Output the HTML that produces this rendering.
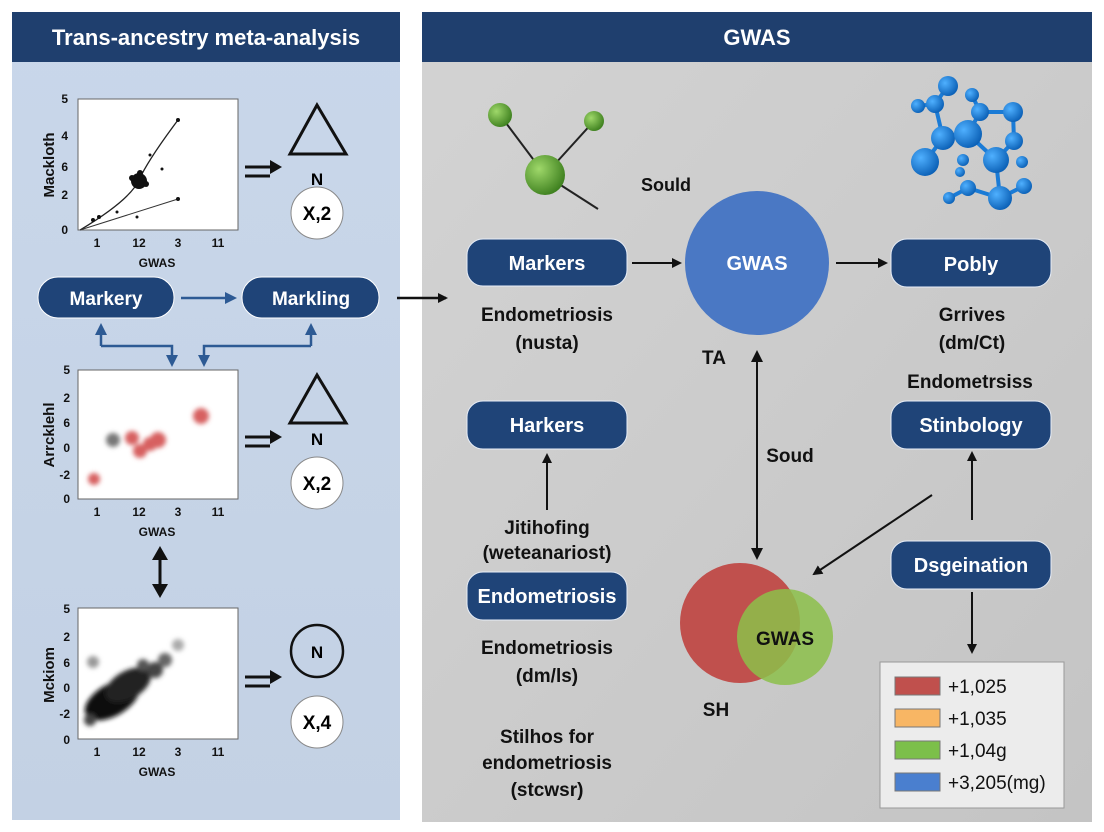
<!DOCTYPE html>
<html><head><meta charset="utf-8"><style>
html,body{margin:0;padding:0;background:#fff;}
svg{display:block;font-family:"Liberation Sans",sans-serif;}
</style></head><body>
<svg width="1104" height="832" viewBox="0 0 1104 832" xmlns="http://www.w3.org/2000/svg">
<defs>
<linearGradient id="lg" x1="0" y1="0" x2="0" y2="1"><stop offset="0" stop-color="#c9d7ea"/><stop offset="1" stop-color="#c3d1e4"/></linearGradient>
<linearGradient id="rg" x1="0" y1="0" x2="1" y2="1"><stop offset="0" stop-color="#d3d3d3"/><stop offset="1" stop-color="#c4c4c4"/></linearGradient>
<radialGradient id="gsph" cx="0.35" cy="0.35" r="0.7"><stop offset="0" stop-color="#9fd86a"/><stop offset="1" stop-color="#3d7f1e"/></radialGradient>
<radialGradient id="bsph" cx="0.35" cy="0.35" r="0.7"><stop offset="0" stop-color="#4fb0ff"/><stop offset="1" stop-color="#0a5fb5"/></radialGradient>
<filter id="bl"><feGaussianBlur stdDeviation="2.5"/></filter>
<marker id="ah" markerWidth="10" markerHeight="10" refX="8" refY="5" orient="auto" markerUnits="userSpaceOnUse"><path d="M0,0 L10,5 L0,10 z" fill="#111"/></marker>
<marker id="ahb" markerWidth="12" markerHeight="12" refX="9" refY="6" orient="auto" markerUnits="userSpaceOnUse"><path d="M0,0 L12,6 L0,12 z" fill="#2d5a94"/></marker>
<marker id="ahs" markerWidth="14" markerHeight="14" refX="0" refY="7" orient="auto-start-reverse" markerUnits="userSpaceOnUse"><path d="M0,0 L14,7 L0,14 z" fill="#111"/></marker>
</defs>

<!-- Left panel -->
<rect x="12" y="12" width="388" height="808" fill="url(#lg)"/>
<rect x="12" y="12" width="388" height="50" fill="#1f3f6e"/>
<text x="206" y="45" text-anchor="middle" font-size="22" font-weight="bold" fill="#fff">Trans-ancestry meta-analysis</text>

<!-- Right panel -->
<rect x="422" y="12" width="670" height="810" fill="url(#rg)"/>
<rect x="422" y="12" width="670" height="50" fill="#1f3f6e"/>
<text x="757" y="45" text-anchor="middle" font-size="22" font-weight="bold" fill="#fff">GWAS</text>

<!-- Plot 1 -->
<g font-size="12" font-weight="bold" fill="#111">
<rect x="78" y="99" width="160" height="131" fill="#fff" stroke="#666"/>
<text x="68" y="103" text-anchor="end">5</text><text x="68" y="140" text-anchor="end">4</text><text x="68" y="171" text-anchor="end">6</text><text x="68" y="199" text-anchor="end">2</text><text x="68" y="234" text-anchor="end">0</text>
<text x="97" y="247" text-anchor="middle">1</text><text x="139" y="247" text-anchor="middle">12</text><text x="178" y="247" text-anchor="middle">3</text><text x="218" y="247" text-anchor="middle">11</text>
<text x="157" y="267" text-anchor="middle">GWAS</text>
<text transform="translate(54,165) rotate(-90)" text-anchor="middle" font-size="15">Mackloth</text>
<path d="M80,230 Q130,200 139,180 T178,120" fill="none" stroke="#222" stroke-width="1.3"/>
<line x1="80" y1="230" x2="178" y2="199" stroke="#333" stroke-width="1"/>
<circle cx="139" cy="181" r="8" fill="#111"/>
<circle cx="132" cy="178" r="3" fill="#111"/><circle cx="146" cy="184" r="3" fill="#111"/><circle cx="140" cy="173" r="3" fill="#111"/>
<circle cx="178" cy="120" r="2" fill="#111"/><circle cx="178" cy="199" r="2" fill="#111"/><circle cx="162" cy="169" r="1.5"/><circle cx="150" cy="155" r="1.5"/><circle cx="99" cy="217" r="2"/><circle cx="117" cy="212" r="1.5"/><circle cx="137" cy="217" r="1.5"/><circle cx="93" cy="220" r="2"/>
</g>
<polygon points="317,105 290,154 346,154" fill="none" stroke="#111" stroke-width="3"/>
<text x="317" y="185" text-anchor="middle" font-size="17" font-weight="bold">N</text>
<circle cx="317" cy="213" r="26" fill="#fff" stroke="#888"/>
<text x="317" y="220" text-anchor="middle" font-size="19" font-weight="bold">X,2</text>
<g stroke="#111" stroke-width="3"><line x1="245" y1="167" x2="272" y2="167"/><line x1="245" y1="176" x2="270" y2="176"/></g>
<path d="M270,160 L282,167 L270,174 z" fill="#111"/>

<!-- pills left -->
<rect x="38" y="277" width="136" height="41" rx="20" fill="#1f4478" stroke="#fff" stroke-width="1"/>
<text x="106" y="305" text-anchor="middle" font-size="19" font-weight="bold" fill="#fff">Markery</text>
<rect x="242" y="277" width="137" height="41" rx="20" fill="#1f4478" stroke="#fff" stroke-width="1"/>
<text x="311" y="305" text-anchor="middle" font-size="19" font-weight="bold" fill="#fff">Markling</text>
<line x1="181" y1="298" x2="234" y2="298" stroke="#2d5a94" stroke-width="2.5" marker-end="url(#ahb)"/>
<g stroke="#2d5a94" stroke-width="2.5" fill="none">
<path d="M101,346 L101,326" marker-end="url(#ahb)"/>
<path d="M101,346 L172,346 L172,364" marker-end="url(#ahb)"/>
<path d="M311,346 L311,326" marker-end="url(#ahb)"/>
<path d="M311,346 L204,346 L204,364" marker-end="url(#ahb)"/>
</g>
<line x1="397" y1="298" x2="446" y2="298" stroke="#111" stroke-width="2.5" marker-end="url(#ah)"/>

<!-- Plot 2 -->
<g font-size="12" font-weight="bold" fill="#111">
<rect x="78" y="370" width="160" height="129" fill="#fff" stroke="#666"/>
<text x="70" y="374" text-anchor="end">5</text><text x="70" y="402" text-anchor="end">2</text><text x="70" y="427" text-anchor="end">6</text><text x="70" y="452" text-anchor="end">0</text><text x="70" y="479" text-anchor="end">-2</text><text x="70" y="503" text-anchor="end">0</text>
<text x="97" y="516" text-anchor="middle">1</text><text x="139" y="516" text-anchor="middle">12</text><text x="178" y="516" text-anchor="middle">3</text><text x="218" y="516" text-anchor="middle">11</text>
<text x="157" y="536" text-anchor="middle">GWAS</text>
<text transform="translate(54,435) rotate(-90)" text-anchor="middle" font-size="15">Arrcklehl</text>
<g filter="url(#bl)">
<circle cx="113" cy="440" r="7" fill="#777"/>
<circle cx="132" cy="438" r="7" fill="#d76060"/><circle cx="140" cy="451" r="7" fill="#d76060"/><circle cx="150" cy="444" r="7" fill="#d76060"/><circle cx="158" cy="440" r="8" fill="#d76060"/><circle cx="201" cy="416" r="8" fill="#d76060"/><circle cx="94" cy="479" r="6" fill="#d76060"/>
</g></g>
<polygon points="317,375 290,423 346,423" fill="none" stroke="#111" stroke-width="3"/>
<text x="317" y="445" text-anchor="middle" font-size="17" font-weight="bold">N</text>
<circle cx="317" cy="483" r="26" fill="#fff" stroke="#888"/>
<text x="317" y="490" text-anchor="middle" font-size="19" font-weight="bold">X,2</text>
<g stroke="#111" stroke-width="3"><line x1="245" y1="437" x2="272" y2="437"/><line x1="245" y1="446" x2="270" y2="446"/></g>
<path d="M270,430 L282,437 L270,444 z" fill="#111"/>

<line x1="160" y1="560" x2="160" y2="585" stroke="#111" stroke-width="3"/>
<path d="M152,560 L160,546 L168,560 z M152,584 L160,598 L168,584 z" fill="#111"/>

<!-- Plot 3 -->
<g font-size="12" font-weight="bold" fill="#111">
<rect x="78" y="608" width="160" height="131" fill="#fff" stroke="#666"/>
<text x="70" y="613" text-anchor="end">5</text><text x="70" y="641" text-anchor="end">2</text><text x="70" y="667" text-anchor="end">6</text><text x="70" y="692" text-anchor="end">0</text><text x="70" y="718" text-anchor="end">-2</text><text x="70" y="744" text-anchor="end">0</text>
<text x="97" y="756" text-anchor="middle">1</text><text x="139" y="756" text-anchor="middle">12</text><text x="178" y="756" text-anchor="middle">3</text><text x="218" y="756" text-anchor="middle">11</text>
<text x="157" y="776" text-anchor="middle">GWAS</text>
<text transform="translate(54,675) rotate(-90)" text-anchor="middle" font-size="15">Mckiom</text>
<g filter="url(#bl)">
<ellipse cx="112" cy="700" rx="30" ry="16" transform="rotate(-30 112 700)" fill="#111"/>
<ellipse cx="128" cy="685" rx="25" ry="14" transform="rotate(-30 128 685)" fill="#222"/>
<circle cx="155" cy="670" r="8" fill="#444"/><circle cx="165" cy="660" r="7" fill="#666"/><circle cx="93" cy="662" r="6" fill="#999"/><circle cx="178" cy="645" r="6" fill="#aaa"/><circle cx="90" cy="720" r="6" fill="#444"/><circle cx="143" cy="665" r="6" fill="#555"/>
</g></g>
<circle cx="317" cy="651" r="26" fill="none" stroke="#111" stroke-width="2.5"/>
<text x="317" y="658" text-anchor="middle" font-size="17" font-weight="bold">N</text>
<circle cx="317" cy="722" r="26" fill="#fff" stroke="#888"/>
<text x="317" y="729" text-anchor="middle" font-size="19" font-weight="bold">X,4</text>
<g stroke="#111" stroke-width="3"><line x1="245" y1="677" x2="272" y2="677"/><line x1="245" y1="686" x2="270" y2="686"/></g>
<path d="M270,670 L282,677 L270,684 z" fill="#111"/>

<!-- Right: green molecule -->
<g stroke="#222" stroke-width="2"><line x1="545" y1="175" x2="500" y2="115"/><line x1="545" y1="175" x2="594" y2="121"/><line x1="545" y1="175" x2="598" y2="209"/></g>
<circle cx="545" cy="175" r="20" fill="url(#gsph)"/>
<circle cx="500" cy="115" r="12" fill="url(#gsph)"/>
<circle cx="594" cy="121" r="10" fill="url(#gsph)"/>
<text x="666" y="191" text-anchor="middle" font-size="18" font-weight="bold" fill="#111">Sould</text>

<!-- blue molecule -->
<g stroke="#1a7bd6" stroke-width="4">
<line x1="948" y1="86" x2="935" y2="104"/><line x1="935" y1="104" x2="918" y2="106"/><line x1="935" y1="104" x2="943" y2="138"/><line x1="943" y1="138" x2="925" y2="162"/><line x1="943" y1="138" x2="968" y2="134"/><line x1="968" y1="134" x2="980" y2="112"/><line x1="980" y1="112" x2="972" y2="95"/><line x1="980" y1="112" x2="1013" y2="112"/><line x1="1013" y1="112" x2="1014" y2="141"/><line x1="968" y1="134" x2="996" y2="160"/><line x1="996" y1="160" x2="1014" y2="141"/><line x1="996" y1="160" x2="1000" y2="198"/><line x1="1000" y1="198" x2="968" y2="188"/><line x1="968" y1="188" x2="949" y2="198"/><line x1="1000" y1="198" x2="1024" y2="186"/></g>
<g fill="url(#bsph)">
<circle cx="948" cy="86" r="10"/><circle cx="935" cy="104" r="9"/><circle cx="918" cy="106" r="7"/><circle cx="943" cy="138" r="12"/><circle cx="925" cy="162" r="14"/><circle cx="968" cy="134" r="14"/><circle cx="980" cy="112" r="9"/><circle cx="972" cy="95" r="7"/><circle cx="1013" cy="112" r="10"/><circle cx="1014" cy="141" r="9"/><circle cx="996" cy="160" r="13"/><circle cx="1000" cy="198" r="12"/><circle cx="968" cy="188" r="8"/><circle cx="949" cy="198" r="6"/><circle cx="1024" cy="186" r="8"/><circle cx="963" cy="160" r="6"/><circle cx="1022" cy="162" r="6"/><circle cx="960" cy="172" r="5"/></g>

<!-- pills right -->
<g font-size="20" font-weight="bold" fill="#fff" text-anchor="middle">
<rect x="467" y="239" width="160" height="47" rx="16" fill="#1f4478" stroke="#e8eef8"/>
<text x="547" y="270">Markers</text>
<rect x="891" y="239" width="160" height="48" rx="16" fill="#1f4478" stroke="#e8eef8"/>
<text x="971" y="271">Pobly</text>
<rect x="467" y="401" width="160" height="48" rx="16" fill="#1f4478" stroke="#e8eef8"/>
<text x="547" y="432">Harkers</text>
<rect x="891" y="401" width="160" height="48" rx="16" fill="#1f4478" stroke="#e8eef8"/>
<text x="971" y="432">Stinbology</text>
<rect x="467" y="572" width="160" height="48" rx="16" fill="#1f4478" stroke="#e8eef8"/>
<text x="547" y="603">Endometriosis</text>
<rect x="891" y="541" width="160" height="48" rx="16" fill="#1f4478" stroke="#e8eef8"/>
<text x="971" y="572">Dsgeination</text>
</g>

<circle cx="757" cy="263" r="72" fill="#4a78c4"/>
<text x="757" y="270" text-anchor="middle" font-size="20" font-weight="bold" fill="#fff">GWAS</text>
<g stroke="#111" stroke-width="2" fill="none">
<line x1="632" y1="263" x2="680" y2="263" marker-end="url(#ah)"/>
<line x1="836" y1="263" x2="886" y2="263" marker-end="url(#ah)"/>
<line x1="547" y1="510" x2="547" y2="455" marker-end="url(#ah)"/>
<line x1="757" y1="362" x2="757" y2="548" stroke-width="2"/>
<line x1="932" y1="495" x2="814" y2="574" marker-end="url(#ah)"/>
<line x1="972" y1="520" x2="972" y2="453" marker-end="url(#ah)"/>
<line x1="972" y1="592" x2="972" y2="652" marker-end="url(#ah)"/>
</g>
<path d="M751,362 L757,350 L763,362 z M751,548 L757,560 L763,548 z" fill="#111"/>

<g font-size="19" font-weight="bold" fill="#111" text-anchor="middle">
<text x="547" y="321">Endometriosis</text><text x="547" y="349">(nusta)</text>
<text x="714" y="364">TA</text>
<text x="972" y="321">Grrives</text><text x="972" y="349">(dm/Ct)</text>
<text x="970" y="388">Endometrsiss</text>
<text x="790" y="462">Soud</text>
<text x="547" y="534">Jitihofing</text><text x="547" y="559">(weteanariost)</text>
<text x="547" y="654">Endometriosis</text><text x="547" y="682">(dm/ls)</text>
<text x="547" y="743">Stilhos for</text><text x="547" y="769">endometriosis</text><text x="547" y="796">(stсwsr)</text>
<text x="716" y="716">SH</text>
</g>

<!-- Venn -->
<circle cx="740" cy="623" r="60" fill="#c0504d"/>
<circle cx="785" cy="637" r="48" fill="#8cc04a" fill-opacity="0.85"/>
<text x="785" y="645" text-anchor="middle" font-size="19" font-weight="bold" fill="#111">GWAS</text>

<!-- Legend -->
<rect x="880" y="662" width="184" height="146" fill="#ececec" stroke="#999"/>
<g stroke="#777" stroke-width="1">
<rect x="895" y="677" width="45" height="18" fill="#c0504d"/>
<rect x="895" y="709" width="45" height="18" fill="#f8b664"/>
<rect x="895" y="741" width="45" height="18" fill="#7cbf4a"/>
<rect x="895" y="773" width="45" height="18" fill="#4a7fcf"/>
</g>
<g font-size="19" fill="#111">
<text x="948" y="693">+1,025</text><text x="948" y="725">+1,035</text><text x="948" y="757">+1,04g</text><text x="948" y="789">+3,205(mg)</text>
</g>
</svg>
</body></html>
